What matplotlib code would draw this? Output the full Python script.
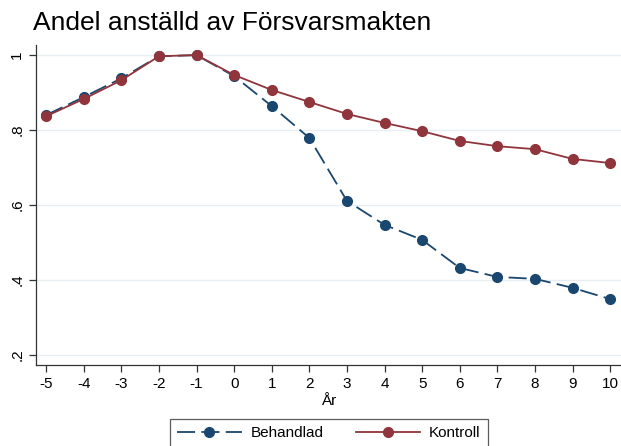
import matplotlib
matplotlib.use("Agg")
import matplotlib.pyplot as plt

plt.rcParams['font.family'] = ['Liberation Sans', 'DejaVu Sans']

years = list(range(-5, 11))
behandlad = [0.840, 0.888, 0.938, 0.997, 1.000, 0.944, 0.864, 0.779, 0.611, 0.547,
             0.507, 0.432, 0.408, 0.403, 0.379, 0.349]
kontroll = [0.837, 0.883, 0.933, 0.997, 1.000, 0.947, 0.907, 0.875, 0.843, 0.819,
            0.797, 0.771, 0.757, 0.749, 0.723, 0.712]
yticks = [0.2, 0.4, 0.6, 0.8, 1.0]
ytick_labels = [".2", ".4", ".6", ".8", "1"]

blue = "#1a476f"
red = "#90353b"

fig = plt.figure(figsize=(6.21, 4.46), dpi=100)
ax = fig.add_axes([36 / 621, 81 / 446, 585 / 621, 320 / 446])

ax.plot(years, behandlad, color=blue, lw=1.3, marker="o", ms=7,
        dashes=(10, 3.5), label="Behandlad", zorder=3)
ax.plot(years, kontroll, color=red, lw=1.3, marker="o", ms=7,
        label="Kontroll", zorder=3)

ax.set_xlim(-5.27, 10.29)
ax.set_ylim(0.173, 1.027)
ax.set_xticks(years)
ax.set_xticklabels([str(y) for y in years], fontsize=11)
ax.set_yticks(yticks)
ax.set_yticklabels(ytick_labels, fontsize=11, rotation=90, va="center")
ax.tick_params(length=5, width=0.9, color="#333333")
ax.grid(axis="y", color="#e6eef2", lw=1)
ax.set_axisbelow(True)
for s in ["top", "right"]:
    ax.spines[s].set_visible(False)
for s in ["left", "bottom"]:
    ax.spines[s].set_color("#333333")
    ax.spines[s].set_linewidth(0.9)

ax.set_xlabel("År", fontsize=11, labelpad=2)
fig.text(33 / 621, 1 - 23 / 446, "Andel anställd av Försvarsmakten",
         fontsize=19, va="center", ha="left")

leg = fig.legend(loc="upper center", bbox_to_anchor=(329 / 621, 1 - 419 / 446), ncol=2,
                 fontsize=11, frameon=True, fancybox=False, edgecolor="#333333",
                 handlelength=4.2, handletextpad=0.6, columnspacing=2.1,
                 borderpad=0.45, borderaxespad=0)
leg.get_frame().set_linewidth(0.9)

fig.savefig("out.png", dpi=100)
